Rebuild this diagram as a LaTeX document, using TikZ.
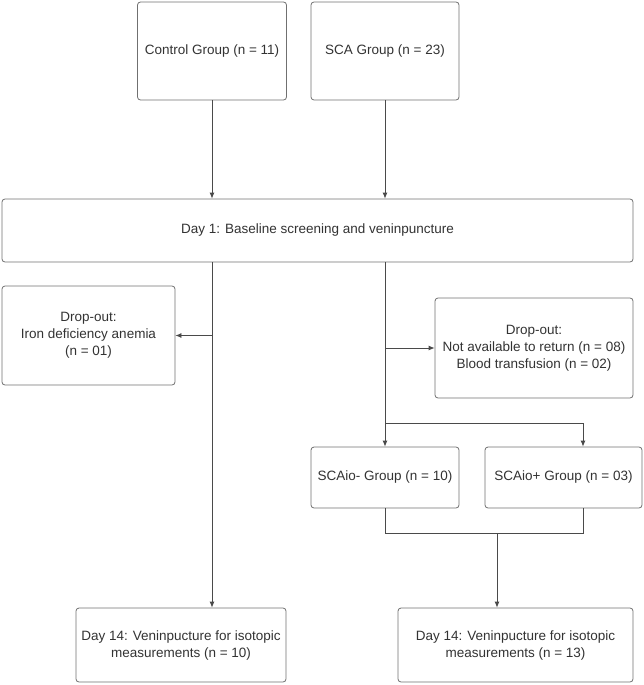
\documentclass[tikz,border=0pt]{standalone}
\usepackage{fontspec}
\setmainfont{Liberation Sans}
\usetikzlibrary{arrows.meta}
\definecolor{txt}{HTML}{333333}
\definecolor{brd}{HTML}{707070}
\definecolor{lnk}{HTML}{4A4A4A}
\tikzset{
  box/.style={draw=brd, line width=0.8pt, rounded corners=3pt, fill=white, text=txt,
    align=center, inner sep=2pt, font=\fontsize{13.5}{17}\selectfont},
  link/.style={draw=lnk, line width=0.8pt},
  arr/.style={link, -{Latex[length=6pt,width=5pt]}}
}
\begin{document}
\begin{tikzpicture}[x=1pt,y=-1pt]
\useasboundingbox (0,0) rectangle (644,685);
\node[box, minimum width=149pt, minimum height=98pt] (ctrl) at (212,51) {Control Group (n = 11)};
\node[box, minimum width=148pt, minimum height=98pt] (sca) at (385,51) {SCA Group (n = 23)};
\node[box, minimum width=631pt, minimum height=63pt] (day1) at (317.5,230.5) {Day 1: Baseline screening and veninpuncture};
\node[box, minimum width=173pt, minimum height=99pt] (dropL) at (88.5,335.5) {Drop-out:\\Iron deficiency anemia\\(n = 01)};
\node[box, minimum width=198pt, minimum height=100pt] (dropR) at (534,348) {Drop-out:\\Not available to return (n = 08)\\Blood transfusion (n = 02)};
\node[box, minimum width=148pt, minimum height=61pt] (scam) at (385,477.5) {SCAio- Group (n = 10)};
\node[box, minimum width=157pt, minimum height=61pt] (scap) at (563.5,477.5) {SCAio+ Group (n = 03)};
\node[box, minimum width=210pt, minimum height=74pt] (d14L) at (181,645) {Day 14: Veninpucture for isotopic\\measurements (n = 10)};
\node[box, minimum width=235pt, minimum height=74pt] (d14R) at (515.5,645) {Day 14: Veninpucture for isotopic\\measurements (n = 13)};
\coordinate (br) at (583,423);
\coordinate (jn) at (497,533);
% top arrows
\draw[arr] (ctrl.south) -- (ctrl.south |- day1.north);
\draw[arr] (sca.south) -- (sca.south |- day1.north);
% left trunk
\draw[arr] (ctrl.south |- day1.south) -- (ctrl.south |- d14L.north);
\draw[arr] (ctrl.south |- dropL.east) -- (dropL.east);
% right trunk
\draw[arr] (sca.south |- day1.south) -- (scam.north);
\draw[arr] (sca.south |- dropR.west) -- (dropR.west);
\draw[link] (scam.north |- br) -- (br);
\draw[arr] (br) -- (br |- scap.north);
% join
\draw[link] (scam.south) -- (scam.south |- jn) -- (br |- jn) -- (br |- scap.south);
\draw[arr] (jn) -- (jn |- d14R.north);
\end{tikzpicture}
\end{document}
